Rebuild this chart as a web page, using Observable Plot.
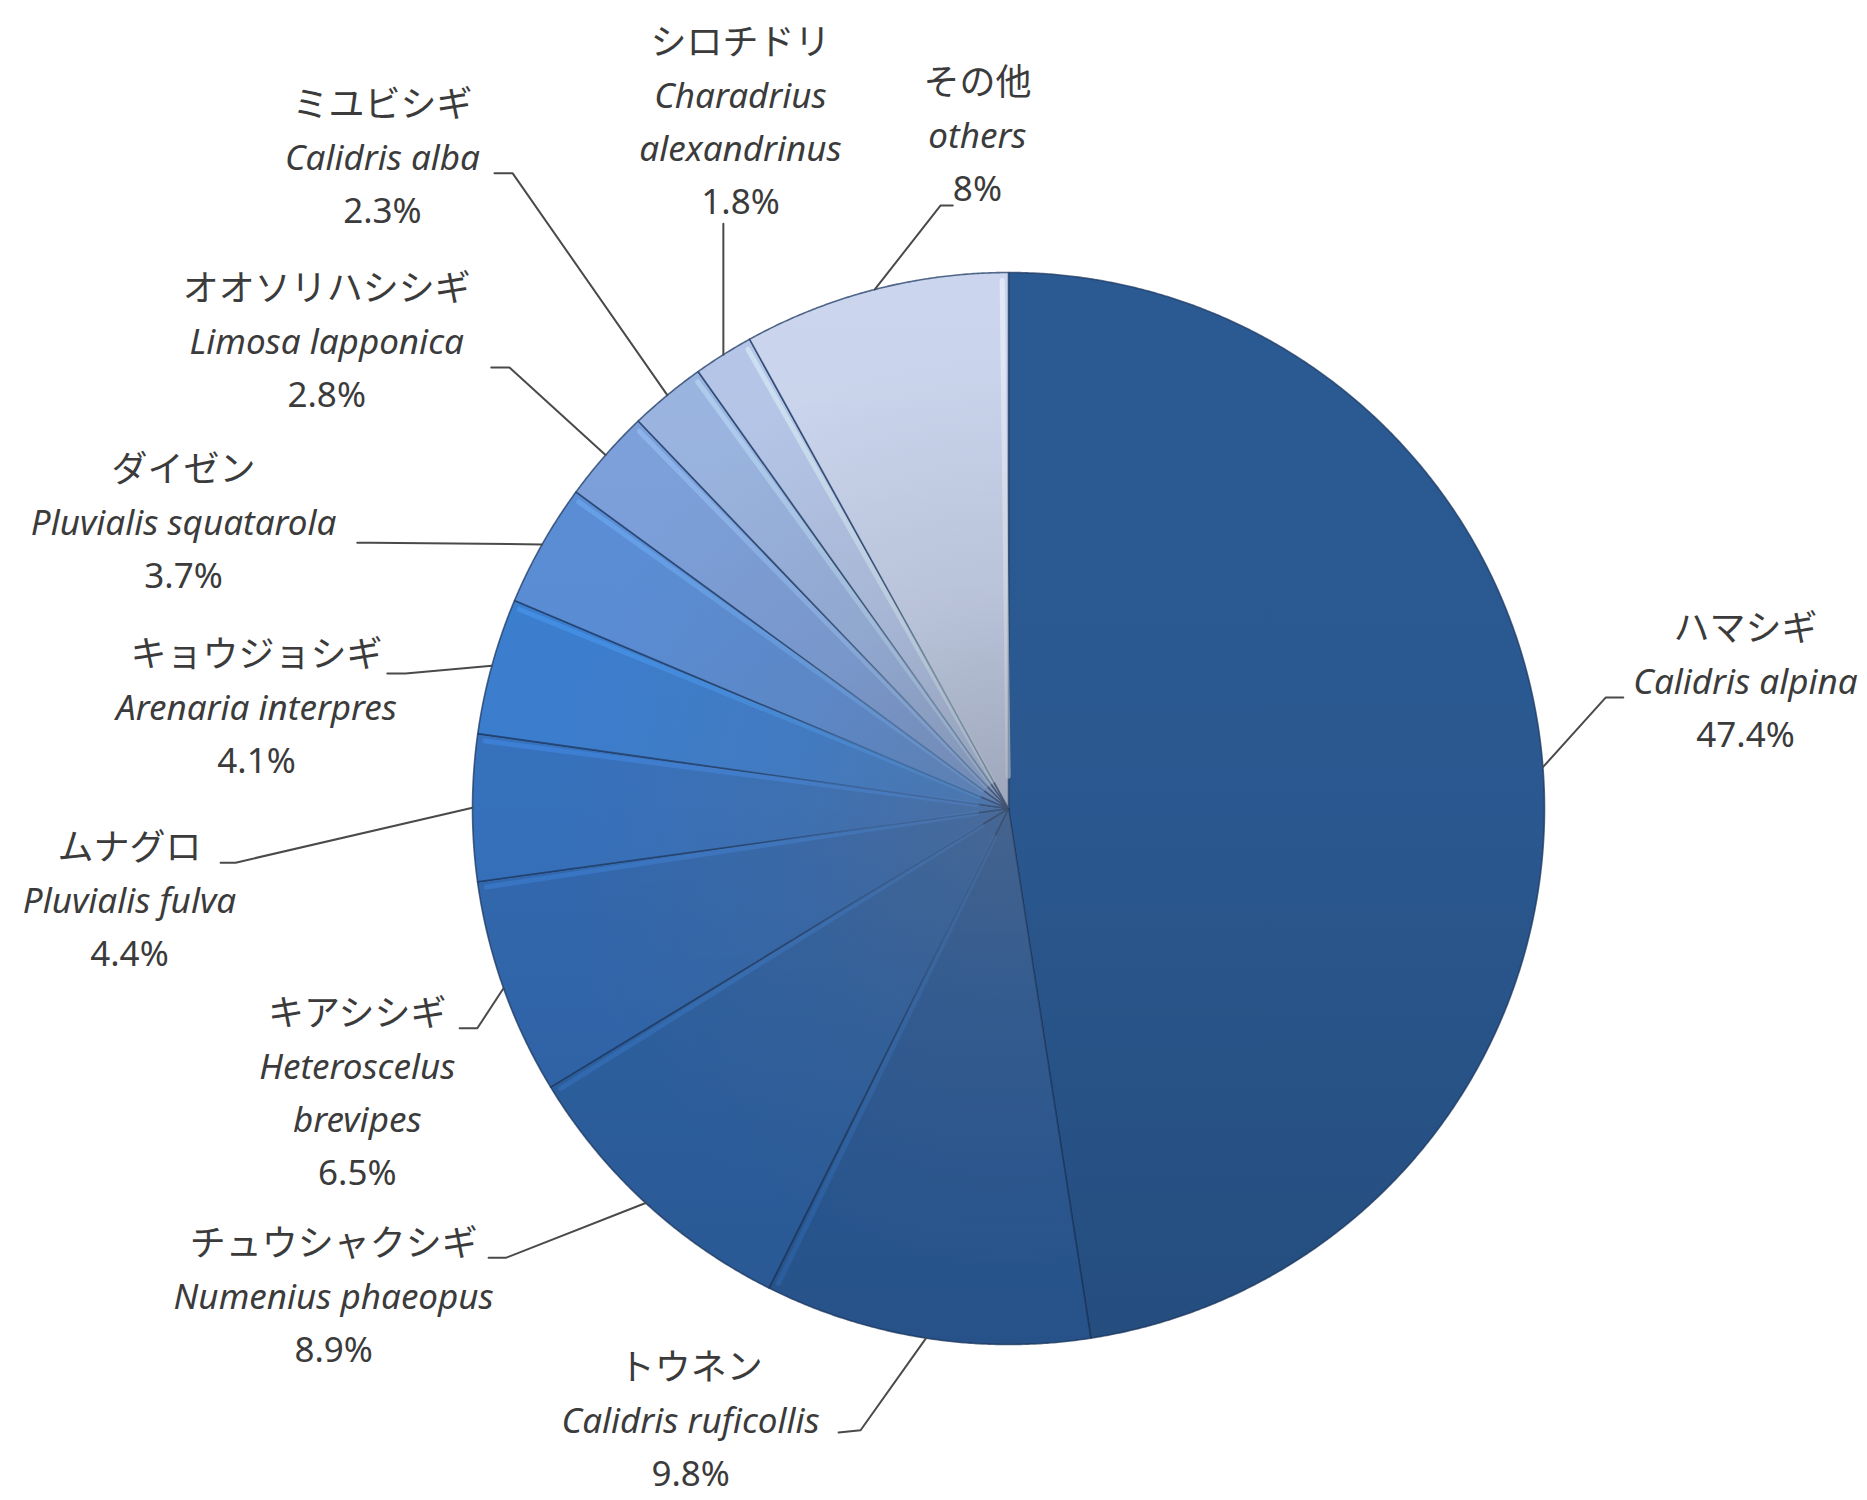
<!DOCTYPE html>
<html>
<head>
<meta charset="utf-8">
<script src="https://cdn.jsdelivr.net/npm/d3@7"></script>
<script src="https://cdn.jsdelivr.net/npm/@observablehq/plot@0.6"></script>
<style>
  html, body { margin: 0; padding: 0; background: #ffffff; }
  #chart svg { display: block; }
</style>
</head>
<body>
<div id="chart"></div>
<script>
// ---------- data ----------
const jpNames = ["ハマシギ", "トウネン", "チュウシャクシギ", "キアシシギ", "ムナグロ", "キョウジョシギ", "ダイゼン", "オオソリハシシギ", "ミユビシギ", "シロチドリ", "その他"];
const latinNames = ["Calidris alpina", "Calidris ruficollis", "Numenius phaeopus", "Heteroscelus\nbrevipes", "Pluvialis fulva", "Arenaria interpres", "Pluvialis squatarola", "Limosa lapponica", "Calidris alba", "Charadrius\nalexandrinus", "others"];
const shares = [47.4, 9.8, 8.9, 6.5, 4.4, 4.1, 3.7, 2.8, 2.3, 1.8, 8];
const pctLabels = ["47.4%", "9.8%", "8.9%", "6.5%", "4.4%", "4.1%", "3.7%", "2.8%", "2.3%", "1.8%", "8%"];

// ---------- style / layout (pie radius = 1 unit) ----------
const sliceColors = ["#2b5a93", "#2d5f9f", "#3066aa", "#346cb5", "#3874c1", "#3d80d2", "#5c8fd8", "#7ea1dc", "#9bb5e1", "#b5c6e8", "#cbd6ee"];
const labelPos = [[1.375, 0.334], [-0.593, -1.045], [-1.259, -0.813], [-1.215, -0.384], [-1.640, -0.075], [-1.403, 0.285], [-1.539, 0.631], [-1.272, 0.968], [-1.168, 1.312], [-0.500, 1.427], [-0.058, 1.353]];
const leaderElbow = [[1.114, 0.207], [-0.276, -1.160], [-0.937, -0.838], [-0.991, -0.410], [-1.442, -0.101], [-1.125, 0.252], [-1.190, 0.496], [-0.931, 0.823], [-0.925, 1.185], [-0.532, 1.091], [-0.127, 1.125]];
const leaderEnd = [[1.147, 0.207], [-0.317, -1.164], [-0.970, -0.838], [-1.024, -0.410], [-1.470, -0.101], [-1.159, 0.252], [-1.215, 0.496], [-0.965, 0.823], [-0.959, 1.185], [-0.532, 1.091], [-0.104, 1.125]];
const lineStep = 0.099;

const W = 1867, H = 1500;
const xDomain = [-1.8806, 1.6026];
const yDomain = [-1.291, 1.5075];

// ---------- derived geometry ----------
const total = d3.sum(shares);
let acc = 0;
const slices = shares.map((v, i) => {
  const a0 = acc / total * 2 * Math.PI;
  acc += v;
  const a1 = acc / total * 2 * Math.PI;
  return {i, name: jpNames[i], color: sliceColors[i], a0, a1, mid: (a0 + a1) / 2};
});

function arcPoints(key, a0, a1, r, extra) {
  const n = Math.max(2, Math.ceil((a1 - a0) / (Math.PI / 720)));
  const pts = [];
  for (let k = 0; k <= n; k++) {
    const a = a0 + (a1 - a0) * k / n;
    pts.push({key, x: r * Math.sin(a), y: r * Math.cos(a), ...extra});
  }
  return pts;
}

const slicePts = slices.flatMap(s => [
  {key: s.name, x: 0, y: 0, color: s.color},
  ...arcPoints(s.name, s.a0, s.a1, 1, {color: s.color}),
  {key: s.name, x: 0, y: 0, color: s.color}
]);
const discPts = arcPoints("disc", 0, 2 * Math.PI, 1, {});
// the lighter small slices (everything after the first) get a grey centre shading
const smallSector = [{key: "small", x: 0, y: 0}, ...arcPoints("small", slices[1].a0, 2 * Math.PI, 1, {}), {key: "small", x: 0, y: 0}];

const highlightPts = slices.filter(s => s.i > 0).flatMap(s => {
  const a = s.a1 - 0.012;
  const c = d3.color(s.color).brighter(0.7).formatHex();
  return [
    {key: s.name, x: 0.06 * Math.sin(a), y: 0.06 * Math.cos(a), color: c},
    {key: s.name, x: 0.985 * Math.sin(a), y: 0.985 * Math.cos(a), color: c}
  ];
});

const leaderPts = slices.flatMap(s => [
  {key: s.name, x: Math.sin(s.mid), y: Math.cos(s.mid)},
  {key: s.name, x: leaderElbow[s.i][0], y: leaderElbow[s.i][1]},
  {key: s.name, x: leaderEnd[s.i][0], y: leaderEnd[s.i][1]}
]);

const jpRows = [], latinRows = [], pctRows = [];
slices.forEach(s => {
  const [lx, ly] = labelPos[s.i];
  let k = 0;
  jpRows.push({x: lx, y: ly - lineStep * k++, text: jpNames[s.i]});
  latinNames[s.i].split("\n").forEach(t => latinRows.push({x: lx, y: ly - lineStep * k++, text: t}));
  pctRows.push({x: lx, y: ly - lineStep * k++, text: pctLabels[s.i]});
});

const textFill = "#3b3b3b";

const chart = Plot.plot({
  width: W,
  height: H,
  margin: 0,
  x: {domain: xDomain, axis: null},
  y: {domain: yDomain, axis: null},
  color: {type: "identity"},
  style: {background: "#ffffff"},
  marks: [
    Plot.line(discPts, {x: "x", y: "y", z: "key", fill: "#1a2a40", fillOpacity: 0.4, stroke: "none", dx: 4, dy: 7, ariaLabel: "shadow"}),
    Plot.line(slicePts, {x: "x", y: "y", z: "key", fill: "color", stroke: "#1d3a63", strokeOpacity: 0.75, strokeWidth: 1.6, strokeLinejoin: "round"}),
    Plot.line(highlightPts, {x: "x", y: "y", z: "key", stroke: "color", strokeWidth: 5, strokeOpacity: 0.45}),
    Plot.line(smallSector, {x: "x", y: "y", z: "key", fill: "url(#pieShade)", stroke: "none"}),
    Plot.line(discPts, {x: "x", y: "y", z: "key", fill: "url(#pieDark)", stroke: "none"}),
    Plot.line(leaderPts, {x: "x", y: "y", z: "key", stroke: "#4a4a4a", strokeWidth: 2}),
    Plot.text(jpRows, {x: "x", y: "y", text: "text", fill: textFill, fontSize: 36, fontFamily: "'Noto Sans CJK JP', 'Noto Sans', sans-serif", textAnchor: "middle"}),
    Plot.text(latinRows, {x: "x", y: "y", text: "text", fill: textFill, fontSize: 35, fontStyle: "italic", fontFamily: "'Noto Sans', 'Open Sans', sans-serif", textAnchor: "middle"}),
    Plot.text(pctRows, {x: "x", y: "y", text: "text", fill: textFill, fontSize: 35, fontFamily: "'Noto Sans', 'Open Sans', sans-serif", textAnchor: "middle"})
  ]
});

// gradient + blur definitions used by the shading marks
const sx = chart.scale("x"), sy = chart.scale("y");
const cx = sx.apply(0), cy = sy.apply(0), rPx = sx.apply(1) - cx;
const svg = d3.select(chart);
const defs = svg.insert("defs", ":first-child");
const rg = defs.append("radialGradient").attr("id", "pieShade").attr("gradientUnits", "userSpaceOnUse")
  .attr("cx", cx).attr("cy", cy).attr("r", rPx);
rg.append("stop").attr("offset", "0").attr("stop-color", "#6a7080").attr("stop-opacity", 0.42);
rg.append("stop").attr("offset", "0.4").attr("stop-color", "#6a7080").attr("stop-opacity", 0.16);
rg.append("stop").attr("offset", "0.85").attr("stop-color", "#6a7080").attr("stop-opacity", 0.0);
const lg = defs.append("linearGradient").attr("id", "pieDark").attr("x1", 0).attr("y1", 0).attr("x2", 0).attr("y2", 1);
lg.append("stop").attr("offset", "0").attr("stop-color", "#000").attr("stop-opacity", 0);
lg.append("stop").attr("offset", "0.5").attr("stop-color", "#000").attr("stop-opacity", 0.03);
lg.append("stop").attr("offset", "1").attr("stop-color", "#000").attr("stop-opacity", 0.14);
defs.append("filter").attr("id", "softBlur").attr("x", "-10%").attr("y", "-10%").attr("width", "120%").attr("height", "120%")
  .append("feGaussianBlur").attr("stdDeviation", 7);
svg.select('g[aria-label="shadow"]').attr("filter", "url(#softBlur)");

document.getElementById("chart").appendChild(chart);
</script>
</body>
</html>
